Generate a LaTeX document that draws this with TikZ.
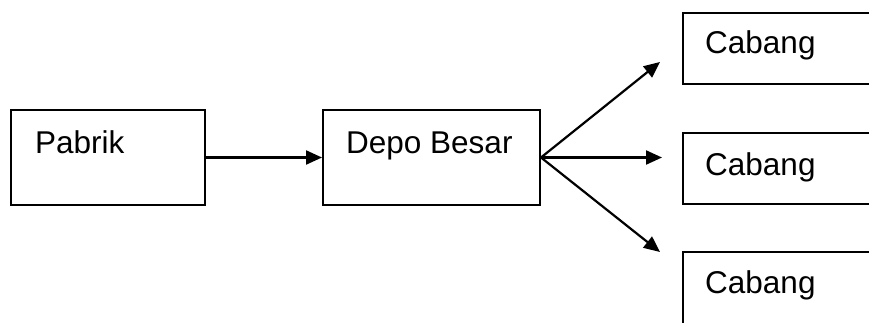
\documentclass[tikz,border=0pt]{standalone}
\usepackage{fontspec}
\setmainfont{Liberation Sans}
\usetikzlibrary{arrows.meta,calc}
\begin{document}
\begin{tikzpicture}[x=1pt,y=1pt,
  box/.style={draw=black,line width=2pt,rectangle,inner sep=0pt},
  lbl/.style={inner sep=0pt,anchor=base west,font=\fontsize{31.5}{36}\selectfont},
  arr/.style={line width=2.2pt,-{Triangle[length=16pt,width=14pt]}}]
\useasboundingbox (0,0) rectangle (869,322);
\clip (0,0) rectangle (869,322);
\node[box,minimum width=194pt,minimum height=95pt] (pabrik) at (108,164.5) {};
\node[box,minimum width=217pt,minimum height=95pt] (depo) at (431.5,164.5) {};
\node[box,minimum width=222pt,minimum height=71pt] (c1) at (794,273.5) {};
\node[box,minimum width=222pt,minimum height=71pt] (c2) at (794,153.5) {};
\node[box,minimum width=222pt,minimum height=76pt] (c3) at (794,32) {};
\node[lbl] (tp) at (35,169) {Pabrik};
\node[lbl] (td) at (346,169) {Depo Besar};
\node[lbl] (t1) at (705,269) {Cabang};
\node[lbl] (t2) at (705,147) {Cabang};
\node[lbl] (t3) at (705,29) {Cabang};
\coordinate (e1) at (660,260);
\coordinate (e2) at (662,164.5);
\coordinate (e3) at (660,70);
\draw[arr] (pabrik.east) -- (depo.west);
\draw[arr] (depo.east) -- (e1);
\draw[arr] (depo.east) -- (e2);
\draw[arr] (depo.east) -- (e3);
\end{tikzpicture}
\end{document}
